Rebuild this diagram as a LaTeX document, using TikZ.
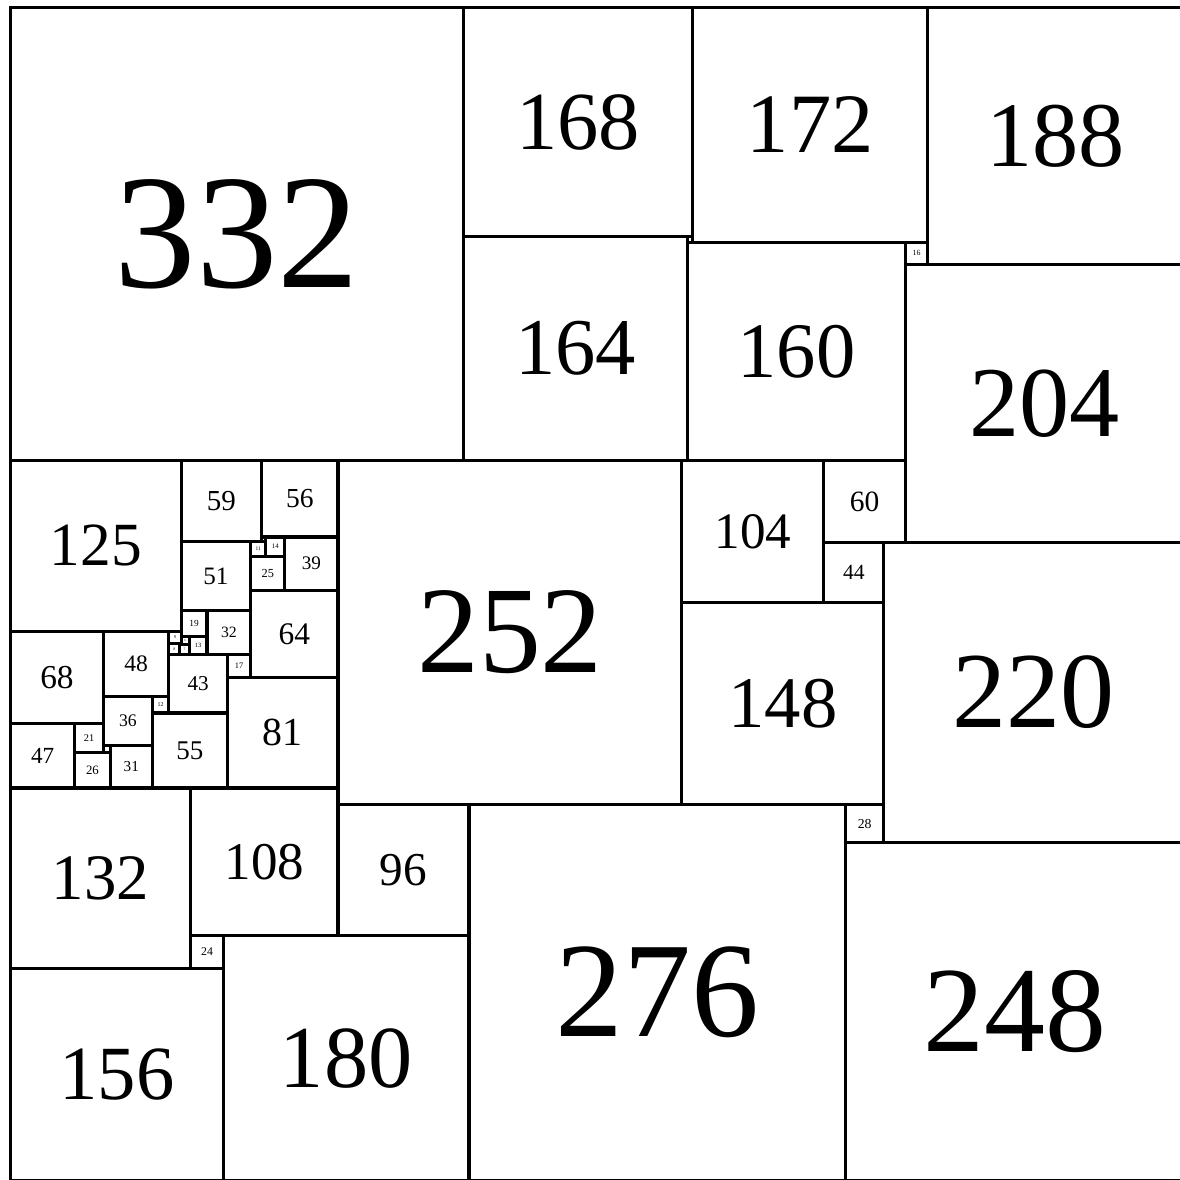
\documentclass[tikz,border=0pt]{standalone}
\usepackage{fontspec}
\setmainfont{Liberation Serif}
\usepackage{tikz}
\tikzset{
  tile/.style={draw, line width=1.3pt, inner sep=0pt, anchor=north west},
}
% square with its side as label, font scaled to the side
\newcommand{\sqtile}[3]{%
  \pgfmathsetmacro{\fsz}{0.2049*#3}%
  \node[tile, minimum size=#3*0.02cm, font=\fontsize{\fsz}{\fsz}\selectfont] (t#3) at (#1,#2) {#3};}
% tiny square, no label
\newcommand{\sqblank}[3]{%
  \node[tile, minimum size=#3*0.02cm] (t#3) at (#1,#2) {};}

\begin{document}
\begin{tikzpicture}[x=0.02cm, y=-0.02cm]
  \useasboundingbox (-6.6,-4.4) rectangle (858.2,860.4);
  % top band
  \sqtile{0}{0}{332}
  \sqtile{332}{0}{168}
  \sqtile{500}{0}{172}
  \sqtile{672}{0}{188}
  \sqtile{332}{168}{164}
  \sqblank{496}{168}{4}
  \sqtile{496}{172}{160}
  \sqtile{656}{172}{16}
  \sqtile{656}{188}{204}
  % middle band
  \sqtile{240}{332}{252}
  \sqtile{492}{332}{104}
  \sqtile{596}{332}{60}
  \sqtile{596}{392}{44}
  \sqtile{640}{392}{220}
  \sqtile{492}{436}{148}
  \sqtile{612}{584}{28}
  % left block of small squares
  \sqtile{0}{332}{125}
  \sqtile{125}{332}{59}
  \sqtile{184}{332}{56}
  \sqblank{184}{388}{3}
  \sqtile{125}{391}{51}
  \sqtile{176}{391}{11}
  \sqtile{187}{388}{14}
  \sqtile{176}{402}{25}
  \sqtile{201}{388}{39}
  \sqtile{176}{427}{64}
  \sqtile{125}{442}{19}
  \sqtile{144}{442}{32}
  \sqtile{116}{457}{9}
  \sqtile{125}{461}{6}
  \sqtile{131}{461}{13}
  \sqtile{116}{466}{8}
  \sqblank{124}{466}{1}
  \sqtile{124}{467}{7}
  \sqtile{0}{457}{68}
  \sqtile{68}{457}{48}
  \sqtile{116}{474}{43}
  \sqtile{159}{474}{17}
  \sqtile{68}{505}{36}
  \sqtile{104}{505}{12}
  \sqtile{104}{517}{55}
  \sqtile{159}{491}{81}
  \sqtile{0}{525}{47}
  \sqtile{47}{525}{21}
  \sqtile{47}{546}{26}
  \sqblank{68}{541}{5}
  \sqtile{73}{541}{31}
  % bottom band
  \sqtile{0}{572}{132}
  \sqtile{132}{572}{108}
  \sqtile{240}{584}{96}
  \sqtile{132}{680}{24}
  \sqtile{0}{704}{156}
  \sqtile{156}{680}{180}
  \sqtile{336}{584}{276}
  \sqtile{612}{612}{248}
\end{tikzpicture}
\end{document}
